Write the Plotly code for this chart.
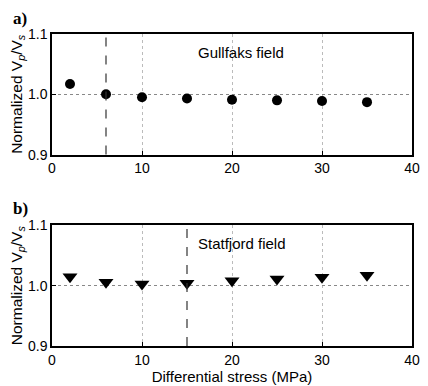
import plotly.graph_objects as go

stress = [2, 6, 10, 15, 20, 25, 30, 35]
gullfaks = [1.017, 1.000, 0.995, 0.993, 0.991, 0.990, 0.989, 0.987]
statfjord = [1.015, 1.0055, 1.003, 1.004, 1.008, 1.011, 1.014, 1.0175]
gullfaks_line = 6
statfjord_line = 15

fig = go.Figure()
fig.add_trace(go.Scatter(x=stress, y=gullfaks, mode="markers", xaxis="x", yaxis="y",
                         marker=dict(symbol="circle", size=10, color="black"), showlegend=False))
fig.add_trace(go.Scatter(x=stress, y=statfjord, mode="markers", xaxis="x2", yaxis="y2",
                         marker=dict(symbol="triangle-down", size=13, color="black"), showlegend=False))

tickfont = dict(family="Liberation Sans, Arial, sans-serif", size=14, color="black")
font = dict(family="Liberation Sans, Arial, sans-serif", size=15, color="black")
yfont = dict(family="Liberation Sans, Arial, sans-serif", size=15.5, color="black")
axx = dict(range=[0, 40], tickvals=[0, 10, 20, 30, 40], showline=True, mirror=True,
           linecolor="black", linewidth=1.5, ticks="inside", ticklen=4, tickcolor="black",
           showgrid=True, gridcolor="#bbbbbb", griddash="dot", gridwidth=1, zeroline=False,
           tickfont=tickfont)
axy = dict(range=[0.9, 1.1], tickvals=[0.9, 1.0, 1.1], tickformat=".1f", showline=True, mirror=True,
           linecolor="black", linewidth=1.5, ticks="inside", ticklen=4, tickcolor="black",
           showgrid=True, gridcolor="#888888", griddash="dot", gridwidth=1, zeroline=False,
           tickfont=tickfont)
ytitle = dict(text="Normalized V<sub><i>p</i></sub>/V<sub><i>s</i></sub>", font=yfont, standoff=2)

fig.update_layout(
    width=428, height=386, margin=dict(l=52, r=8, t=34, b=39),
    paper_bgcolor="white", plot_bgcolor="white",
    xaxis=dict(axx, domain=[0, 1], anchor="y"),
    yaxis=dict(axy, domain=[0.6134, 1.0], anchor="x", title=ytitle),
    xaxis2=dict(axx, domain=[0, 1], anchor="y2",
                title=dict(text="Differential stress (MPa)", font=font, standoff=0)),
    yaxis2=dict(axy, domain=[0, 0.3866], anchor="x2", title=ytitle),
    font=font,
)

fig.add_shape(type="line", xref="x", yref="y domain", x0=gullfaks_line, x1=gullfaks_line, y0=0, y1=1,
              line=dict(color="#333333", width=1.2, dash="dash"))
fig.add_shape(type="line", xref="x2", yref="y2 domain", x0=statfjord_line, x1=statfjord_line, y0=0, y1=1,
              line=dict(color="#333333", width=1.2, dash="dash"))

fig.add_annotation(x=16.0, y=1.07, xref="x", yref="y", text="Gullfaks field", showarrow=False,
                   xanchor="left", yanchor="middle", font=font)
fig.add_annotation(x=16.0, y=1.07, xref="x2", yref="y2", text="Statfjord field", showarrow=False,
                   xanchor="left", yanchor="middle", font=font)

lab = dict(family="Liberation Serif, Times New Roman, serif", size=17, color="black")
fig.add_annotation(x=-42/368, y=(386-39-18)/313, xref="paper", yref="paper", text="<b>a)</b>",
                   showarrow=False, font=lab, xanchor="left", yanchor="middle")
fig.add_annotation(x=-42/368, y=(386-39-209)/313, xref="paper", yref="paper", text="<b>b)</b>",
                   showarrow=False, font=lab, xanchor="left", yanchor="middle")

fig.write_html("out.html")
